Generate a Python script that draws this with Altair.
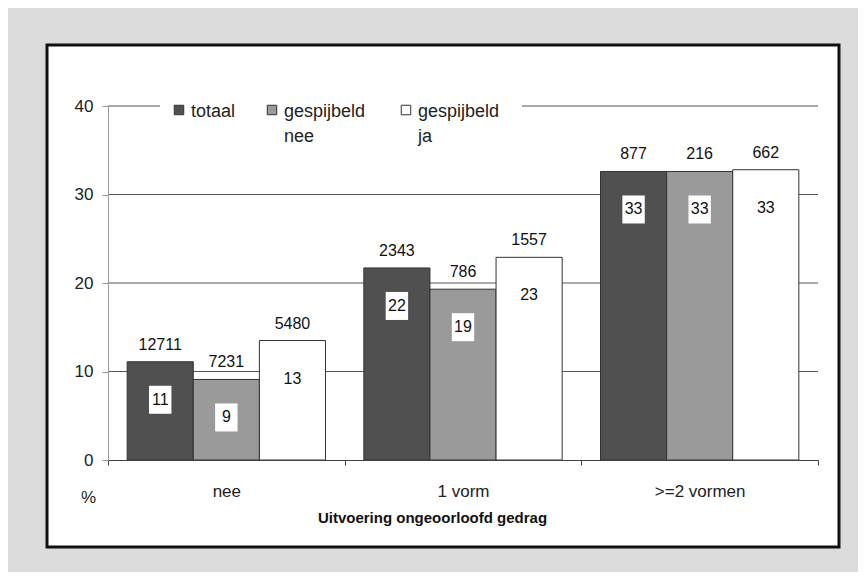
import altair as alt
import pandas as pd

categories = ["nee", "1 vorm", ">=2 vormen"]
series = ["totaal", "gespijbeld nee", "gespijbeld ja"]
legend_labels = ["totaal", "gespijbeld\nnee", "gespijbeld\nja"]
heights = {
    "totaal": [11.1, 21.7, 32.6],
    "gespijbeld nee": [9.1, 19.3, 32.6],
    "gespijbeld ja": [13.5, 22.9, 32.8],
}
pct_labels = {
    "totaal": [11, 22, 33],
    "gespijbeld nee": [9, 19, 33],
    "gespijbeld ja": [13, 23, 33],
}
counts = {
    "totaal": [12711, 2343, 877],
    "gespijbeld nee": [7231, 786, 216],
    "gespijbeld ja": [5480, 1557, 662],
}
y_ticks = [0, 10, 20, 30, 40]
grid_values = [10, 20, 30, 40]
colors = ["#505050", "#9a9a9a", "#ffffff"]

rows = []
for s in series:
    for i, c in enumerate(categories):
        rows.append({"cat": c, "serie": s, "h": heights[s][i],
                     "pct": str(pct_labels[s][i]), "n": str(counts[s][i])})
df = pd.DataFrame(rows)

FONT = "Liberation Sans"

x_axis = alt.Axis(title="Uitvoering ongeoorloofd  gedrag", titleFontWeight="bold",
                  titleFontSize=15, titleX=324, titleY=57, titleBaseline="middle",
                  titleColor="#111",
                  labelAngle=0, labelPadding=18, labelFontSize=17, labelColor="#222",
                  tickBand="extent", tickSize=5, domainColor="#444", tickColor="#444",
                  grid=False, zindex=1)
y_axis = alt.Axis(values=y_ticks, title="%", titleAngle=0, titleX=-20, titleY=391,
                  titleAlign="center", titleBaseline="middle", titleFontWeight="normal",
                  titleFontSize=17, titleColor="#222", grid=False, tickSize=6, labelPadding=9,
                  domainColor="#999", tickColor="#999", labelFontSize=17, labelColor="#222",
                  zindex=1)
y_scale = alt.Scale(domain=[0, 40], nice=False)
color_scale = alt.Scale(domain=series, range=colors)
x_enc = alt.X("cat:N", sort=categories, axis=x_axis,
              scale=alt.Scale(paddingInner=0, paddingOuter=0))
xo_enc = alt.XOffset("serie:N", sort=series,
                     scale=alt.Scale(paddingInner=0, paddingOuter=0.29))

frame = alt.Chart(pd.DataFrame({"a": [0]})).mark_rect(
    fill="white", stroke="#111", strokeWidth=3
).encode(x=alt.value(-61), x2=alt.value(731), y=alt.value(-61), y2=alt.value(441))

grid = alt.Chart(pd.DataFrame({"v": grid_values})).mark_rule(
    color="#555", strokeWidth=1
).encode(y=alt.Y("v:Q", scale=y_scale, axis=y_axis))

bars = alt.Chart(df).mark_bar(stroke="#333", strokeWidth=1).encode(
    x=x_enc, xOffset=xo_enc,
    y=alt.Y("h:Q", scale=y_scale, axis=y_axis),
    fill=alt.Fill("serie:N", sort=series, scale=color_scale, legend=None),
)

boxes = alt.Chart(df).mark_point(
    shape="M -0.8 -1 L 0.8 -1 L 0.8 1 L -0.8 1 Z", filled=True, fill="white",
    opacity=1, size=784, strokeWidth=0, yOffset=38
).encode(x=x_enc, xOffset=xo_enc, y=alt.Y("h:Q", scale=y_scale, axis=y_axis))

pct_text = alt.Chart(df).mark_text(
    baseline="middle", dy=38, fontSize=16, color="#111", font=FONT
).encode(x=x_enc, xOffset=xo_enc, y=alt.Y("h:Q", scale=y_scale, axis=y_axis),
         text="pct:N")

n_text = alt.Chart(df).mark_text(
    baseline="alphabetic", dy=-12, fontSize=16, color="#111", font=FONT
).encode(x=x_enc, xOffset=xo_enc, y=alt.Y("h:Q", scale=y_scale, axis=y_axis),
         text="n:N")

# manual legend (layout positions in pixels relative to the plot area)
legend_sym_x = [71, 164, 298]
legend_bg = alt.Chart(pd.DataFrame({"a": [0]})).mark_rect(fill="white").encode(
    x=alt.value(52), x2=alt.value(414), y=alt.value(-12), y2=alt.value(18))
legend_layers = [legend_bg]
for i, s in enumerate(series):
    ld = pd.DataFrame({"serie": [s], "label": [legend_labels[i]]})
    legend_layers.append(
        alt.Chart(ld).mark_point(shape="square", filled=True, size=90, opacity=1,
                                 stroke="#333", strokeWidth=1).encode(
            x=alt.value(legend_sym_x[i]), y=alt.value(4),
            fill=alt.Fill("serie:N", scale=color_scale, legend=None)))
    legend_layers.append(
        alt.Chart(ld).mark_text(align="left", baseline="alphabetic", lineBreak="\n",
                                lineHeight=25, fontSize=18, color="#222", font=FONT).encode(
            x=alt.value(legend_sym_x[i] + 12), y=alt.value(10.5), text="label:N"))

chart = alt.layer(frame, grid, *legend_layers, bars, boxes, pct_text, n_text).properties(
    width=710, height=354,
    autosize=alt.AutoSizeParams(type="none"),
    padding={"left": 100, "top": 98, "right": 40, "bottom": 112},
    background="#dcdcdc",
).configure_view(stroke=None).configure(font=FONT)

chart.save("out.html", embed_options={"renderer": "svg", "actions": False})
